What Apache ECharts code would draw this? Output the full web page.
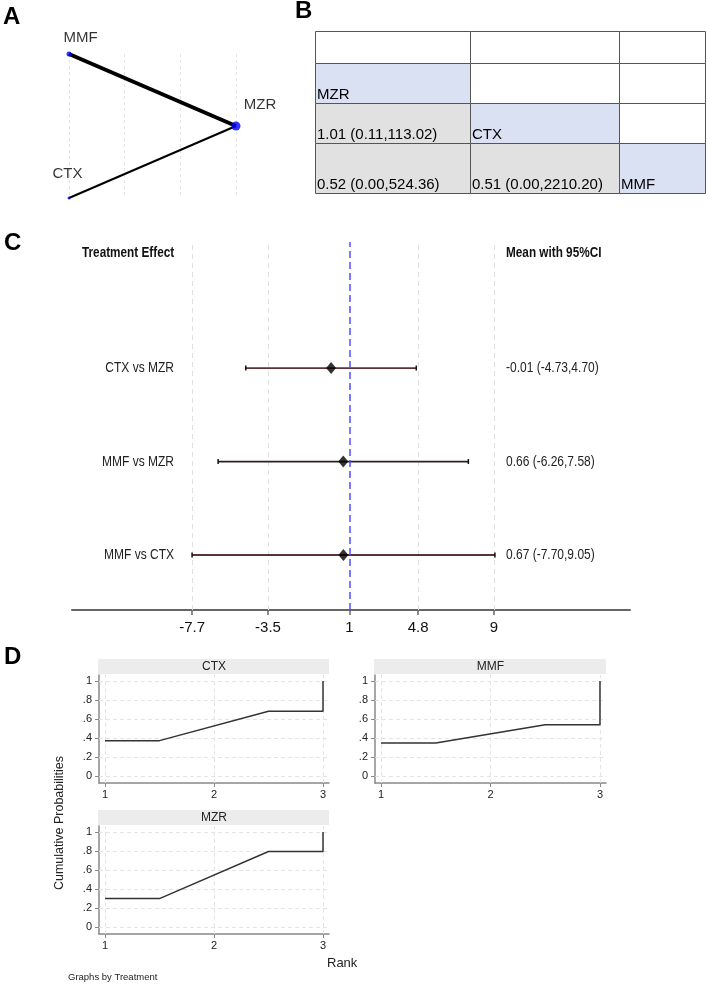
<!DOCTYPE html>
<html><head><meta charset="utf-8">
<script src="https://cdn.jsdelivr.net/npm/echarts@6/dist/echarts.min.js"></script>
<style>html,body{margin:0;padding:0;background:#fff}#c{width:708px;height:984px}</style>
</head><body><div id="c"></div>
<script>
// ---------------- DATA ----------------
// Panel A: network plot
const netNodes = ['MMF', 'MZR', 'CTX'];
const netNodeX = [0, 3, 0];
const netNodeY = [2, 1, 0];
const netNodeSize = [5, 9, 3];
const netEdgeFrom = ['MMF', 'CTX'];
const netEdgeTo = ['MZR', 'MZR'];
const netEdgeWidth = [4, 2];

// Panel B: league table (row by row, column by column)
const leagueText = [
  ['', '', ''],
  ['MZR', '', ''],
  ['1.01 (0.11,113.02)', 'CTX', ''],
  ['0.52 (0.00,524.36)', '0.51 (0.00,2210.20)', 'MMF']
];
// cell kind: w = empty, d = diagonal (treatment), g = comparison
const leagueKind = [
  ['w', 'w', 'w'],
  ['d', 'w', 'w'],
  ['g', 'd', 'w'],
  ['g', 'g', 'd']
];

// Panel C: forest plot
const comparisons = ['CTX vs MZR', 'MMF vs MZR', 'MMF vs CTX'];
const effMean = [-0.01, 0.66, 0.67];
const effLow = [-4.73, -6.26, -7.70];
const effHigh = [4.70, 7.58, 9.05];
const forestTicks = [-7.7, -3.5, 1, 4.8, 9];
const forestTickLabels = ['-7.7', '-3.5', '1', '4.8', '9'];
const refValue = 1;

// Panel D: cumulative rank probabilities
const treatments = ['CTX', 'MMF', 'MZR'];
const rankX = [1, 1.5, 2.5, 3, 3];
const cumCTX = [0.372, 0.372, 0.681, 0.681, 1];
const cumMMF = [0.347, 0.347, 0.539, 0.539, 1];
const cumMZR = [0.299, 0.299, 0.795, 0.795, 1];
const rankTicks = [1, 2, 3];
const probTicks = [0, 0.2, 0.4, 0.6, 0.8, 1];

// ---------------- LAYOUT / STYLE ----------------
const SANS = "'Liberation Sans', Arial, sans-serif";
const NARROW_SCALE = 0.8;
const grids = [], xAxes = [], yAxes = [], series = [], graphics = [];
function addGrid(g) { grids.push(g); return grids.length - 1; }

// ---- Panel A ----
const gA = addGrid({ left: 69, top: 54, width: 167, height: 144 });
xAxes.push({ gridIndex: gA, type: 'value', min: 0, max: 3, interval: 1,
  axisLine: { show: false }, axisTick: { show: false }, axisLabel: { show: false },
  splitLine: { show: true, lineStyle: { color: '#e4e4e4', type: [3, 3], width: 1 } } });
const xA = xAxes.length - 1;
yAxes.push({ gridIndex: gA, type: 'value', min: 0, max: 2, show: false });
const yA = yAxes.length - 1;
const netLabelOffset = [[11.5, -16], [24, -21], [-1.5, -24]];
netEdgeFrom.forEach((f, i) => {
  const a = netNodes.indexOf(f), b = netNodes.indexOf(netEdgeTo[i]);
  series.push({ type: 'line', xAxisIndex: xA, yAxisIndex: yA, silent: true, z: 2,
    data: [[netNodeX[a], netNodeY[a]], [netNodeX[b], netNodeY[b]]],
    symbol: 'none', lineStyle: { color: '#000', width: netEdgeWidth[i] } });
});
series.push({ type: 'scatter', xAxisIndex: xA, yAxisIndex: yA, z: 3, silent: true,
  data: netNodes.map((n, i) => ({ name: n, value: [netNodeX[i], netNodeY[i]], symbolSize: netNodeSize[i],
    label: { show: true, position: 'inside', formatter: n, offset: netLabelOffset[i],
      fontSize: 15, fontFamily: SANS, color: '#000' } })),
  itemStyle: { color: '#0000ff' } });

// ---- Panel B ----
const colW = [155, 149, 86];
const rowH = [32, 40, 40, 50];
const sumTo = (arr, k) => arr.slice(0, k).reduce((s, v) => s + v, 0);
const gB = addGrid({ left: 315, top: 31, width: sumTo(colW, 3), height: sumTo(rowH, 4) });
xAxes.push({ gridIndex: gB, type: 'value', min: 0, max: sumTo(colW, 3), show: false });
const xB = xAxes.length - 1;
yAxes.push({ gridIndex: gB, type: 'value', min: 0, max: sumTo(rowH, 4), inverse: true, show: false });
const yB = yAxes.length - 1;
const kindColor = { w: '#ffffff', d: '#d9e1f2', g: '#e1e1e1' };
const cells = [];
leagueText.forEach((row, r) => row.forEach((t, c) => cells.push([c, r])));
series.push({ type: 'custom', xAxisIndex: xB, yAxisIndex: yB, silent: true,
  data: cells,
  renderItem: (params, api) => {
    const c = api.value(0), r = api.value(1);
    const p0 = api.coord([sumTo(colW, c), sumTo(rowH, r)]);
    const p1 = api.coord([sumTo(colW, c + 1), sumTo(rowH, r + 1)]);
    return { type: 'group', children: [
      { type: 'rect', shape: { x: Math.round(p0[0]) + 0.5, y: Math.round(p0[1]) + 0.5,
          width: Math.round(p1[0] - p0[0]), height: Math.round(p1[1] - p0[1]) },
        style: { fill: kindColor[leagueKind[r][c]], stroke: '#555', lineWidth: 1 } },
      { type: 'text', x: p0[0] + 2, y: p1[1] - 1,
        style: { text: leagueText[r][c], fontSize: 15, fontFamily: SANS, fill: '#000',
          align: 'left', verticalAlign: 'bottom' } }
    ] };
  } });

// ---- Panel C ----
const fTop = 242, fH = 368;
const yMinF = 0.412, yMaxF = 4.348;
const gF = addGrid({ left: 72, top: fTop, width: 558, height: fH });
xAxes.push({ gridIndex: gF, type: 'value', min: -14.34, max: 16.52,
  axisLine: { show: true, onZero: false, lineStyle: { color: '#666', width: 2 } },
  axisTick: { show: true, customValues: forestTicks, length: 5, lineStyle: { color: '#666', width: 1.5 } },
  axisLabel: { show: true, customValues: forestTicks, margin: 10, fontSize: 15, fontFamily: SANS, color: '#111',
    formatter: v => forestTickLabels[forestTicks.findIndex(t => Math.abs(t - v) < 1e-6)] },
  splitLine: { show: false } });
const xF = xAxes.length - 1;
yAxes.push({ gridIndex: gF, type: 'value', min: yMinF, max: yMaxF, show: false });
const yF = yAxes.length - 1;
const rowY = comparisons.map((c, i) => comparisons.length - i);
// grid lines (behind)
series.push({ type: 'line', xAxisIndex: xF, yAxisIndex: yF, silent: true, z: 1, data: [],
  markLine: { silent: true, z: 1, symbol: 'none', label: { show: false }, animation: false,
    data: forestTicks.filter(t => t !== refValue).map(t => ({ xAxis: t })),
    lineStyle: { color: '#e0e0e0', type: [5, 4], width: 1 } } });
const barColor = ['#5a3434', '#2a2222', '#5a3434'];
series.push({ type: 'custom', xAxisIndex: xF, yAxisIndex: yF, silent: true, z: 3,
  data: comparisons.map((c, i) => [effLow[i], effHigh[i], rowY[i], i]),
  renderItem: (params, api) => {
    const pL = api.coord([api.value(0), api.value(2)]);
    const pH = api.coord([api.value(1), api.value(2)]);
    const i = api.value(3);
    return { type: 'group', children: [
      { type: 'line', shape: { x1: pL[0], y1: pL[1], x2: pH[0], y2: pH[1] }, style: { stroke: barColor[i], lineWidth: 1.8 } },
      { type: 'line', shape: { x1: pL[0], y1: pL[1] - 2.5, x2: pL[0], y2: pL[1] + 2.5 }, style: { stroke: '#111', lineWidth: 1.5 } },
      { type: 'line', shape: { x1: pH[0], y1: pH[1] - 2.5, x2: pH[0], y2: pH[1] + 2.5 }, style: { stroke: '#111', lineWidth: 1.5 } }
    ] };
  } });
series.push({ type: 'scatter', xAxisIndex: xF, yAxisIndex: yF, silent: true, z: 5,
  symbol: 'diamond', symbolSize: [10, 12], itemStyle: { color: '#000' },
  data: comparisons.map((c, i) => [effMean[i], rowY[i]]) });
series.push({ type: 'line', xAxisIndex: xF, yAxisIndex: yF, silent: true, z: 4, data: [],
  markLine: { silent: true, z: 4, symbol: 'none', label: { show: false }, animation: false,
    data: [{ xAxis: refValue }],
    lineStyle: { color: '#4f4fff', type: [7, 4], width: 1.5 } } });
// row labels and value texts (condensed text, anchored to row positions)
const labelRightX = 174, valueLeftX = 506;
const fmt = v => v.toFixed(2);
series.push({ type: 'custom', xAxisIndex: xF, yAxisIndex: yF, silent: true, z: 6, clip: false,
  data: comparisons.map((c, i) => [effMean[i], rowY[i], i]),
  renderItem: (params, api) => {
    const p = api.coord([api.value(0), api.value(1)]);
    const i = api.value(2);
    const txt = fmt(effMean[i]) + ' (' + fmt(effLow[i]) + ',' + fmt(effHigh[i]) + ')';
    return { type: 'group', children: [
      { type: 'text', x: labelRightX, y: p[1], scaleX: NARROW_SCALE,
        style: { text: comparisons[i], fontSize: 15, fontFamily: SANS, fill: '#222', align: 'right', verticalAlign: 'middle' } },
      { type: 'text', x: valueLeftX, y: p[1], scaleX: NARROW_SCALE,
        style: { text: txt, fontSize: 15, fontFamily: SANS, fill: '#222', align: 'left', verticalAlign: 'middle' } }
    ] };
  } });
graphics.push({ type: 'text', silent: true, x: 82, y: 253, scaleX: 0.84,
  style: { text: 'Treatment Effect', fontSize: 14, fontWeight: 'bold', fontFamily: SANS, fill: '#111', align: 'left', verticalAlign: 'middle' } });
graphics.push({ type: 'text', silent: true, x: 506, y: 253, scaleX: 0.84,
  style: { text: 'Mean with 95%CI', fontSize: 14, fontWeight: 'bold', fontFamily: SANS, fill: '#111', align: 'left', verticalAlign: 'middle' } });

// ---- Panel D ----
const dGrids = [
  { left: 99, top: 675, width: 230, height: 108 },
  { left: 375, top: 675, width: 231, height: 108 },
  { left: 99, top: 826, width: 230, height: 108 }
];
const cumData = [cumCTX, cumMMF, cumMZR];
treatments.forEach((t, k) => {
  const g = addGrid(dGrids[k]);
  xAxes.push({ gridIndex: g, type: 'value', min: 0.945, max: 3.055,
    axisLine: { show: true, onZero: false, lineStyle: { color: '#888', width: 1.5 } },
    axisTick: { show: true, customValues: rankTicks, length: 4, lineStyle: { color: '#888' } },
    axisLabel: { show: true, customValues: rankTicks, margin: 6, fontSize: 11, fontFamily: SANS, color: '#222' },
    splitLine: { show: false } });
  const xi = xAxes.length - 1;
  yAxes.push({ gridIndex: g, type: 'value', min: -0.074, max: 1.063,
    axisLine: { show: true, onZero: false, lineStyle: { color: '#888', width: 1.5 } },
    axisTick: { show: true, customValues: probTicks, length: 4, lineStyle: { color: '#888' } },
    axisLabel: { show: true, customValues: probTicks, margin: 7, fontSize: 11, fontFamily: SANS, color: '#222',
      formatter: v => (Math.abs(v) < 1e-9 ? '0' : Math.abs(v - 1) < 1e-9 ? '1' : '.' + Math.round(v * 10)) },
    splitLine: { show: false } });
  const yi = yAxes.length - 1;
  series.push({ type: 'line', xAxisIndex: xi, yAxisIndex: yi, silent: true, z: 1, data: [],
    markLine: { silent: true, z: 1, symbol: 'none', label: { show: false }, animation: false,
      lineStyle: { color: '#e4e4e4', type: [4, 3], width: 1 },
      data: probTicks.map(v => ({ yAxis: v })).concat(rankTicks.map(v => ({ xAxis: v }))) } });
  series.push({ type: 'line', xAxisIndex: xi, yAxisIndex: yi, silent: true, z: 3,
    data: rankX.map((x, j) => [x, cumData[k][j]]), symbol: 'none',
    lineStyle: { color: '#333', width: 1.5 } });
  const gd = dGrids[k];
  graphics.push({ type: 'rect', silent: true, shape: { x: gd.left - 1, y: gd.top - 16, width: gd.width + 1, height: 15 },
    style: { fill: '#ececec' } });
  graphics.push({ type: 'text', silent: true, x: gd.left + gd.width / 2, y: gd.top - 8.5,
    style: { text: t, fontSize: 12, fontFamily: SANS, fill: '#222', align: 'center', verticalAlign: 'middle' } });
});
graphics.push({ type: 'text', silent: true, x: 60, y: 823, rotation: Math.PI / 2,
  style: { text: 'Cumulative Probabilities', fontSize: 12.5, fontFamily: SANS, fill: '#222', align: 'center', verticalAlign: 'middle' } });
graphics.push({ type: 'text', silent: true, x: 327, y: 963,
  style: { text: 'Rank', fontSize: 13, fontFamily: SANS, fill: '#222', align: 'left', verticalAlign: 'middle' } });
graphics.push({ type: 'text', silent: true, x: 68, y: 977,
  style: { text: 'Graphs by Treatment', fontSize: 9.5, fontFamily: SANS, fill: '#222', align: 'left', verticalAlign: 'middle' } });

const letterStyle = { fontSize: 24, fontWeight: 'bold', fontFamily: SANS, color: '#000' };
const titles = [
  { text: 'A', left: 3, top: 5, padding: 0, textStyle: letterStyle },
  { text: 'B', left: 295, top: -1, padding: 0, textStyle: letterStyle },
  { text: 'C', left: 4, top: 231, padding: 0, textStyle: letterStyle },
  { text: 'D', left: 4, top: 645, padding: 0, textStyle: letterStyle }
];

const chart = echarts.init(document.getElementById('c'));
chart.setOption({
  animation: false,
  backgroundColor: '#fff',
  title: titles,
  grid: grids,
  xAxis: xAxes,
  yAxis: yAxes,
  series: series,
  graphic: graphics
});
</script></body></html>
